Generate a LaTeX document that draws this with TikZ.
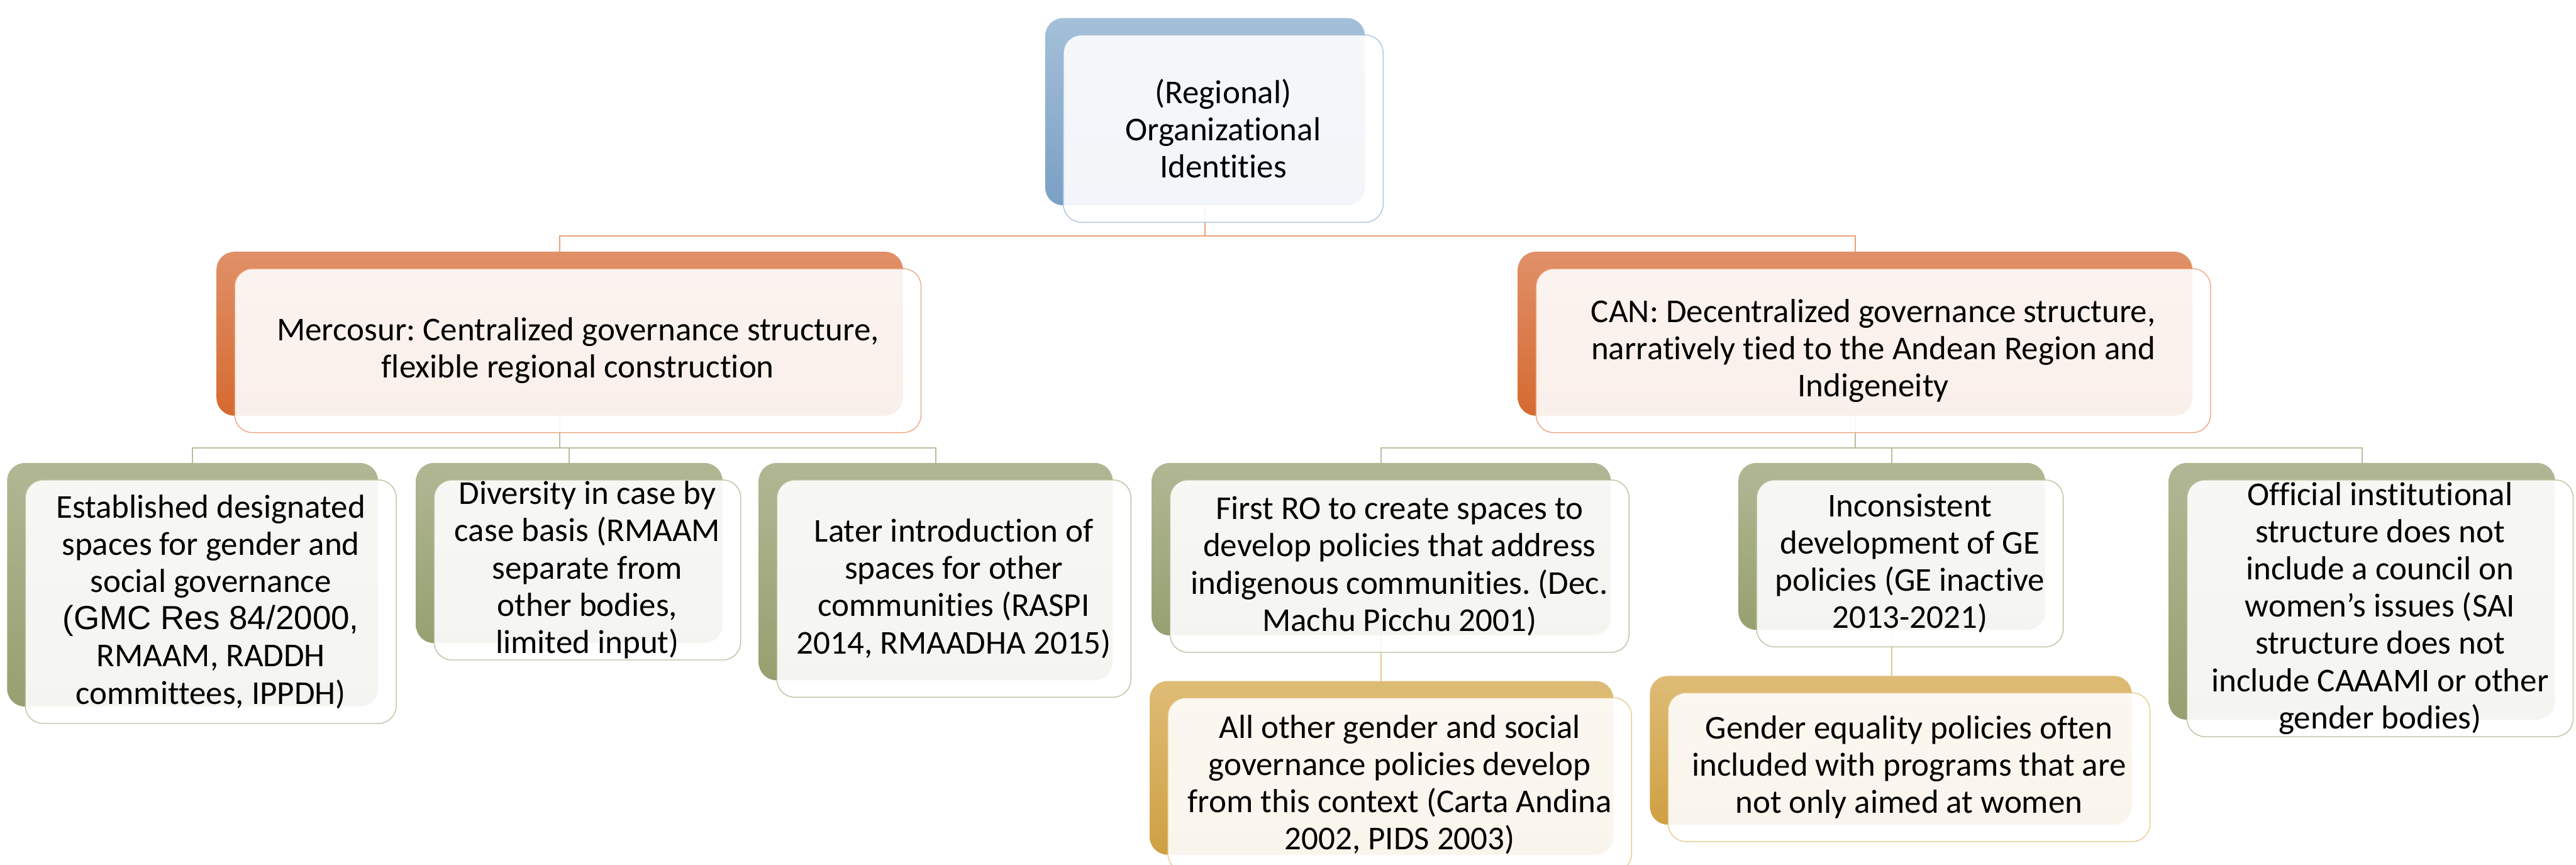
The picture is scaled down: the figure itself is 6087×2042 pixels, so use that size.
\documentclass[tikz,border=0pt]{standalone}
\usepackage{fontspec}
\setmainfont{Carlito}[Ligatures={TeX,NoCommon}]
\newfontfamily\arialfont{Liberation Sans}
\usepackage{tikz}
\usetikzlibrary{calc}
\usetikzlibrary{backgrounds}
\frenchspacing

% colours of the four levels
\definecolor{bluetop}{RGB}{164,192,217}
\definecolor{bluemid}{RGB}{145,178,212}
\definecolor{bluebot}{RGB}{122,160,196}
\definecolor{blueline}{RGB}{165,193,221}
\definecolor{orangetop}{RGB}{224,144,104}
\definecolor{orangemid}{RGB}{229,128,66}
\definecolor{orangebot}{RGB}{213,106,48}
\definecolor{orangeline}{RGB}{236,160,118}
\definecolor{olivetop}{RGB}{177,183,148}
\definecolor{olivemid}{RGB}{165,173,132}
\definecolor{olivebot}{RGB}{150,160,112}
\definecolor{oliveline}{RGB}{184,190,156}
\definecolor{goldtop}{RGB}{222,188,118}
\definecolor{goldmid}{RGB}{221,178,88}
\definecolor{goldbot}{RGB}{207,160,66}
\definecolor{goldline}{RGB}{230,200,135}

\tikzset{
  backbox/.style={rounded corners=0.42cm, draw=none,
    top color=#1top, middle color=#1mid, bottom color=#1bot},
  frontbox/.style={rounded corners=0.42cm, draw=#1line, line width=0.55pt,
    fill=white, fill opacity=0.9},
  boxtext/.style={align=center, inner sep=0pt,
    font=\fontsize{22.4}{25}\selectfont},
  link/.style={draw=#1line, line width=0.85pt}
}

% name, top centre, width, height, colour, text
\newcommand{\orgbox}[6]{%
  \node[backbox=#5, anchor=north, minimum width=#3, minimum height=#4] (#1) at (#2) {};
  \node[frontbox=#5, minimum width=#3, minimum height=#4] (#1f) at ([shift={(43,40)}]#1.center) {};
  \node[boxtext] (#1t) at (#1f.center) {#6};
}

\begin{document}
\begin{tikzpicture}[x=0.01cm, y=-0.01cm]
\useasboundingbox (0,0) rectangle (6087,2042);

% top
\orgbox{top}{2847.5,42}{7.55cm}{4.42cm}{blue}{(Regional)\\Organizational\\Identities}

% second level
\orgbox{merc}{1322.5,594}{16.21cm}{3.87cm}{orange}{Mercosur: Centralized governance structure,\\flexible regional construction}
\orgbox{can}{4383.5,594}{15.93cm}{3.87cm}{orange}{CAN: Decentralized governance structure,\\narratively tied to the Andean Region and\\Indigeneity}

% Mercosur branch
\orgbox{mA}{455,1093}{8.76cm}{5.75cm}{olive}{Established designated\\spaces for gender and\\social governance\\{\arialfont(GMC Res 84/2000,}\\RMAAM, RADDH\\committees, IPPDH)}
\orgbox{mB}{1345,1093}{7.24cm}{4.25cm}{olive}{Diversity in case by\\case basis (RMAAM\\separate from\\other bodies,\\limited input)}
\orgbox{mC}{2211,1093}{8.36cm}{5.13cm}{olive}{Later introduction of\\spaces for other\\communities (RASPI\\2014, RMAADHA 2015)}

% CAN branch
\orgbox{cA}{3264,1093}{10.84cm}{4.07cm}{olive}{First RO to create spaces to\\develop policies that address\\indigenous communities. (Dec.\\Machu Picchu 2001)}
\orgbox{cB}{4470,1093}{7.24cm}{3.94cm}{olive}{Inconsistent\\development of GE\\policies (GE inactive\\2013-2021)}
\orgbox{cC}{5581,1093}{9.12cm}{6.06cm}{olive}{Official institutional\\structure does not\\include a council on\\women's issues (SAI\\structure does not\\include CAAAMI or other\\gender bodies)}

% third level
\orgbox{gA}{3264.5,1608}{10.95cm}{4.10cm}{gold}{All other gender and social\\governance policies develop\\from this context (Carta Andina\\2002, PIDS 2003)}
\orgbox{gB}{4468,1596}{11.38cm}{3.51cm}{gold}{Gender equality policies often\\included with programs that are\\not only aimed at women}

% links, kept behind the boxes
\begin{scope}[on background layer]
\foreach \kid in {merc,can}
  \draw[link=orange] (top.south) -- ++(0,71) -| (\kid.north);
\foreach \kid in {mA,mB,mC}
  \draw[link=olive] (merc.south) -- ++(0,75) -| (\kid.north);
\foreach \kid in {cA,cB,cC}
  \draw[link=olive] (can.south) -- ++(0,75) -| (\kid.north);
\draw[link=gold] (cA.south) -- (cA.south |- gA.north);
\draw[link=gold] (cB.south) -- (cB.south |- gB.north);
\end{scope}
\end{tikzpicture}
\end{document}
